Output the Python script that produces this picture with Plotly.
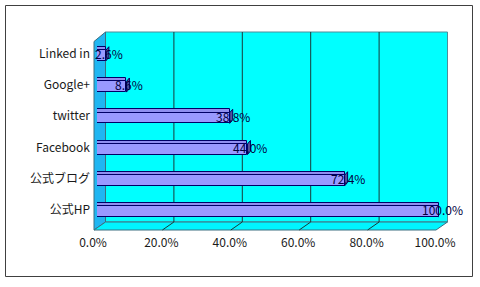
import plotly.graph_objects as go

# Data (bottom-to-top order)
categories = ["公式HP", "公式ブログ", "Facebook", "twitter", "Google+", "Linked in"]
values = [100.0, 72.4, 44.0, 38.8, 8.6, 2.6]
tick_vals = [0, 20, 40, 60, 80, 100]
tick_text = ["0.0%", "20.0%", "40.0%", "60.0%", "80.0%", "100.0%"]

W, H = 480, 287
FONT = "Noto Sans CJK JP"


def fx(x):
    return x / W


def fy(y):
    return 1 - y / H


fig = go.Figure()

# front face of bars
fig.add_trace(go.Bar(
    x=values, y=categories, orientation="h",
    width=0.34, offset=-0.23,
    marker=dict(color="#9999FF", line=dict(color="#000066", width=1)),
    hoverinfo="skip", showlegend=False,
))
# top face of bars
fig.add_trace(go.Bar(
    x=values, y=categories, orientation="h",
    width=0.11, offset=0.11,
    marker=dict(color="#8F8FF0", line=dict(color="#000066", width=1)),
    hoverinfo="skip", showlegend=False,
))

shapes = []
# back wall
shapes.append(dict(type="path", xref="paper", yref="paper", layer="below",
                   path=f"M{fx(105.5)},{fy(32)} L{fx(447.5)},{fy(32)} L{fx(447.5)},{fy(222)} L{fx(105.5)},{fy(222)} Z",
                   fillcolor="#00FFFF", line=dict(color="#4F8C99", width=1)))
# left wall
shapes.append(dict(type="path", xref="paper", yref="paper", layer="below",
                   path=f"M{fx(94)},{fy(41.5)} L{fx(105.5)},{fy(32)} L{fx(105.5)},{fy(222)} L{fx(94)},{fy(230)} Z",
                   fillcolor="#1FB6F2", line=dict(color="#3C6E80", width=1)))
# floor
shapes.append(dict(type="path", xref="paper", yref="paper", layer="below",
                   path=f"M{fx(94)},{fy(230)} L{fx(105.5)},{fy(222)} L{fx(447.5)},{fy(222)} L{fx(436)},{fy(230)} Z",
                   fillcolor="#00F5FF", line=dict(color="#3C6E80", width=1)))
# grid lines on back wall and floor
for t in tick_vals[1:-1]:
    shapes.append(dict(type="line", xref="x", yref="paper", layer="below",
                       xsizemode="pixel", xanchor=t, x0=8.5, x1=8.5,
                       y0=fy(222), y1=fy(32), line=dict(color="#1A3A3A", width=1)))
    shapes.append(dict(type="line", xref="x", yref="paper", layer="below",
                       xsizemode="pixel", xanchor=t, x0=8.5, x1=-3,
                       y0=fy(222), y1=fy(230), line=dict(color="#1A3A3A", width=1)))
# end caps of bars
for i, v in enumerate(values):
    shapes.append(dict(type="path", xref="x", yref="y", layer="above",
                       xsizemode="pixel", ysizemode="pixel", xanchor=v, yanchor=i,
                       path="M0,-7.2 L0,3.4 L3,6.9 L3,-3.7 Z",
                       fillcolor="#55559A", line=dict(color="#000066", width=1)))
# outer border
shapes.append(dict(type="rect", xref="paper", yref="paper", layer="above",
                   x0=fx(5.5), x1=fx(472.5), y0=fy(276.5), y1=fy(5.5),
                   line=dict(color="#404040", width=1)))

annotations = []
for v, c in zip(values, categories):
    annotations.append(dict(x=v, y=c, xref="x", yref="y", text=f"{v:.1f}%",
                            showarrow=False, xshift=3, xanchor="center", yanchor="middle",
                            font=dict(family=FONT, size=12, color="#000040")))

fig.update_layout(
    width=W, height=H,
    margin=dict(l=0, r=0, t=0, b=0),
    paper_bgcolor="white", plot_bgcolor="rgba(0,0,0,0)",
    barmode="overlay", bargap=0,
    shapes=shapes, annotations=annotations,
    font=dict(family=FONT, size=12, color="#1a1a1a"),
    xaxis=dict(domain=[fx(97), fx(439)], range=[0, 100], showgrid=False, zeroline=False,
               showline=False, tickvals=tick_vals, ticktext=tick_text, ticks="",
               automargin=False,
               ticklabelshift=-4, ticklabelstandoff=8, tickfont=dict(size=12)),
    yaxis=dict(domain=[fy(225.5), fy(38)], range=[-0.5, 5.5], type="category",
               categoryorder="array", categoryarray=categories,
               automargin=False,
               showgrid=False, zeroline=False, showline=False, ticks="",
               ticklabelstandoff=6, tickfont=dict(size=12)),
)

fig.write_html("out.html")
